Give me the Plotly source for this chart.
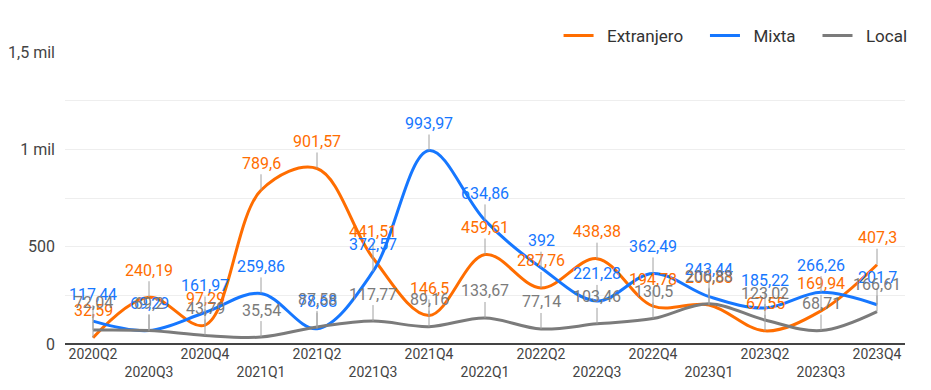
import plotly.graph_objects as go

categories = ["2020Q2", "2020Q3", "2020Q4", "2021Q1", "2021Q2", "2021Q3", "2021Q4", "2022Q1",
              "2022Q2", "2022Q3", "2022Q4", "2023Q1", "2023Q2", "2023Q3", "2023Q4"]
extranjero = [32.59, 240.19, 97.29, 789.6, 901.57, 441.51, 146.5, 459.61, 287.76, 438.38, 194.78, 200.83, 67.55, 169.94, 407.3]
mixta = [117.44, 69.29, 161.97, 259.86, 78.68, 372.57, 993.97, 634.86, 392, 221.28, 362.49, 243.44, 185.22, 266.26, 201.7]
local = [72.04, 69.2, 43.79, 35.54, 87.58, 117.77, 89.16, 133.67, 77.14, 103.46, 130.5, 206.88, 123.02, 68.71, 166.61]

series = [("Extranjero", extranjero, "#ff6d00"),
          ("Mixta", mixta, "#1677ff"),
          ("Local", local, "#7b7b7b")]

tick_text = [c if i % 2 == 0 else "<br>" + c for i, c in enumerate(categories)]


def fmt(v):
    return f"{v:g}".replace(".", ",")


lead = "&nbsp;" * 2
trail = "&nbsp;" * 4
fig = go.Figure()
annotations = []
for idx, (name, vals, color) in enumerate(series):
    legend_name = lead + name + (trail if idx < len(series) - 1 else "")
    fig.add_trace(go.Scatter(
        x=categories, y=vals, name=legend_name, mode="lines",
        line=dict(color=color, width=3, shape="spline", smoothing=1.0),
        hovertemplate=name + ": %{y}<extra></extra>",
    ))
    for c, v in zip(categories, vals):
        annotations.append(dict(
            x=c, y=v, xref="x", yref="y", text=fmt(v),
            showarrow=True, arrowhead=0, arrowwidth=1, arrowcolor="#a0a0a0",
            ax=0, ay=-27, standoff=0,
            font=dict(family="Roboto", size=16, color=color),
        ))

fig.update_layout(
    width=931, height=390,
    margin=dict(l=57, r=34, t=44, b=54, autoexpand=False),
    paper_bgcolor="white", plot_bgcolor="white",
    font=dict(family="Roboto", size=14, color="#444444"),
    showlegend=True,
    legend=dict(orientation="h", x=1.009, xanchor="right", y=1.055, yanchor="middle",
                font=dict(size=17, color="#333333"), bgcolor="rgba(0,0,0,0)",
                traceorder="normal"),
    annotations=annotations,
    xaxis=dict(
        type="category", range=[-0.5, len(categories) - 0.5], automargin=False,
        tickmode="array", tickvals=categories, ticktext=tick_text,
        showgrid=False, showline=False, ticks="", tickfont=dict(size=14, color="#444444"),
    ),
    yaxis=dict(
        range=[0, 1500], tickmode="array", automargin=False,
        tickvals=[0, 250, 500, 750, 1000, 1250, 1500],
        ticktext=["0", "", "500", "", "1 mil", "", "1,5 mil"],
        showgrid=True, gridcolor="#eeeeee", gridwidth=1,
        zeroline=True, zerolinecolor="#444444", zerolinewidth=2,
        ticks="", ticklabelstandoff=9, tickfont=dict(size=16, color="#444444"),
    ),
)

fig.write_html("out.html")
